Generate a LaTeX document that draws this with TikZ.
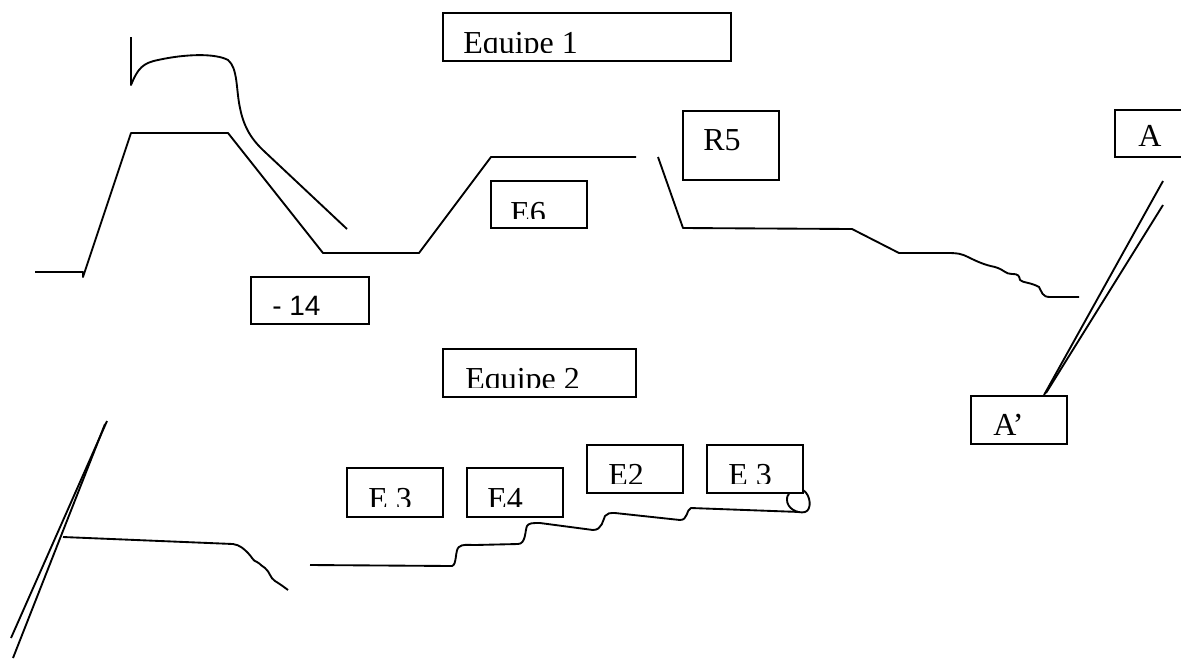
\documentclass[tikz,border=0pt]{standalone}
\usepackage{fontspec}
\setmainfont{Liberation Serif}
\newfontfamily\arialfont{Liberation Sans}
\begin{document}
\begin{tikzpicture}[x=0.75pt,y=-0.75pt,
  box/.style={draw,line width=1.5pt,inner sep=0pt},
  lbl/.style={inner sep=0pt,anchor=base west,font=\fontsize{24}{27}\selectfont},
  stroke/.style={line width=1.4pt,line join=round}]
\useasboundingbox (0,0) rectangle (1181,658);
\newcommand\boxnode[5]{\node[box,minimum width={(#4-#2)*0.75pt},minimum height={(#5-#3)*0.75pt}] (#1) at ({(#2+#4)/2},{(#3+#5)/2}) {};}
% boxes
\boxnode{eq1}{443}{13}{731}{61}
\boxnode{m14}{251}{277}{369}{324}
\boxnode{r5}{683}{111}{779}{180}
\boxnode{e6}{491}{181}{587}{228}
\boxnode{a}{1115}{110}{1190}{157}
\boxnode{ap}{971}{396}{1067}{444}
\boxnode{eq2}{443}{349}{636}{397}
\boxnode{e3a}{347}{468}{443}{517}
\boxnode{e4}{467}{468}{563}{517}
\boxnode{e2}{587}{445}{683}{493}
\boxnode{e3b}{707}{445}{803}{493}
% labels
\begin{scope}\clip (444,14) rectangle (730,52);
\node[lbl] (eq1t) at (463,53) {Equipe 1};\end{scope}
\node[lbl,font=\arialfont\fontsize{21}{24}\selectfont] (m14t) at (272,315) {- 14};
\node[lbl] (r5t) at (703,150) {R5};
\begin{scope}\clip (492,182) rectangle (586,218);
\node[lbl] (e6t) at (510,223) {E6};\end{scope}
\node[lbl] (at) at (1138,146) {A};
\node[lbl] (apt) at (993,435) {A’};
\begin{scope}\clip (444,350) rectangle (635,387);
\node[lbl] (eq2t) at (465,389) {Equipe 2};\end{scope}
\begin{scope}\clip (348,469) rectangle (442,506);
\node[lbl] (e3at) at (368,509) {E 3};\end{scope}
\begin{scope}\clip (468,469) rectangle (562,506);
\node[lbl] (e4t) at (487,509) {E4};\end{scope}
\begin{scope}\clip (588,446) rectangle (682,483);
\node[lbl] (e2t) at (608,485) {E2};\end{scope}
\begin{scope}\clip (708,446) rectangle (802,483);
\node[lbl] (e3bt) at (728,485) {E 3};\end{scope}
% top-left profile
\draw[stroke] (35,272) -- (83,272) -- (83,277) -- (131,133) -- (228,133) -- (323,253) -- (419,253) -- (491,157) -- (636,157);
\draw[stroke] (131,37) -- (131,85) .. controls (138,68) and (143,63) .. (158,60)
  .. controls (185,54) and (215,53) .. (228,60)
  .. controls (238,68) and (236,90) .. (240,108)
  .. controls (244,128) and (252,140) .. (265,152) -- (347,229);
% R5 profile
\draw[stroke] (658,157) -- (683,228) -- (852,229) -- (899,253) -- (948,253)
  .. controls (958,253) and (962,254) .. (968,257)
  .. controls (978,262) and (985,265) .. (995,267)
  .. controls (1005,270) and (1005,274) .. (1012,274)
  .. controls (1019,274) and (1019,276) .. (1020,280)
  .. controls (1023,283) and (1030,282) .. (1039,287)
  .. controls (1042,292) and (1042,297) .. (1050,297) -- (1079,297);
% A - A' double line
\draw[stroke] (1163,181) -- (1044,395);
\draw[stroke] (1163,205) -- (1046,393);
% bottom-left
\draw[stroke] (107,421) -- (11,638);
\draw[stroke] (105,424) -- (13,658);
\draw[stroke] (63,537) -- (233,544) .. controls (240,545) and (244,549) .. (248,553)
  .. controls (252,557) and (253,561) .. (257,562)
  .. controls (261,564) and (262,567) .. (265,568)
  .. controls (270,572) and (270,578) .. (275,581)
  .. controls (280,584) and (284,587) .. (288,590);
% bottom stair
\draw[stroke] (310,565) -- (452,566) .. controls (457,565) and (455,549) .. (459,547)
  .. controls (462,544) and (468,545) .. (475,545) -- (518,544)
  .. controls (526,544) and (525,530) .. (527,526)
  .. controls (529,523) and (532,523) .. (540,523) -- (593,530)
  .. controls (602,530) and (603,520) .. (605,516)
  .. controls (607,513) and (610,513) .. (615,513) -- (680,520)
  .. controls (688,520) and (686,510) .. (691,508) -- (800,512);
\draw[stroke] (803,490) .. controls (811,495) and (812,510) .. (805,512)
  .. controls (797,514) and (787,508) .. (787,500) .. controls (787,496) and (788,495) .. (789,494);
\end{tikzpicture}
\end{document}
